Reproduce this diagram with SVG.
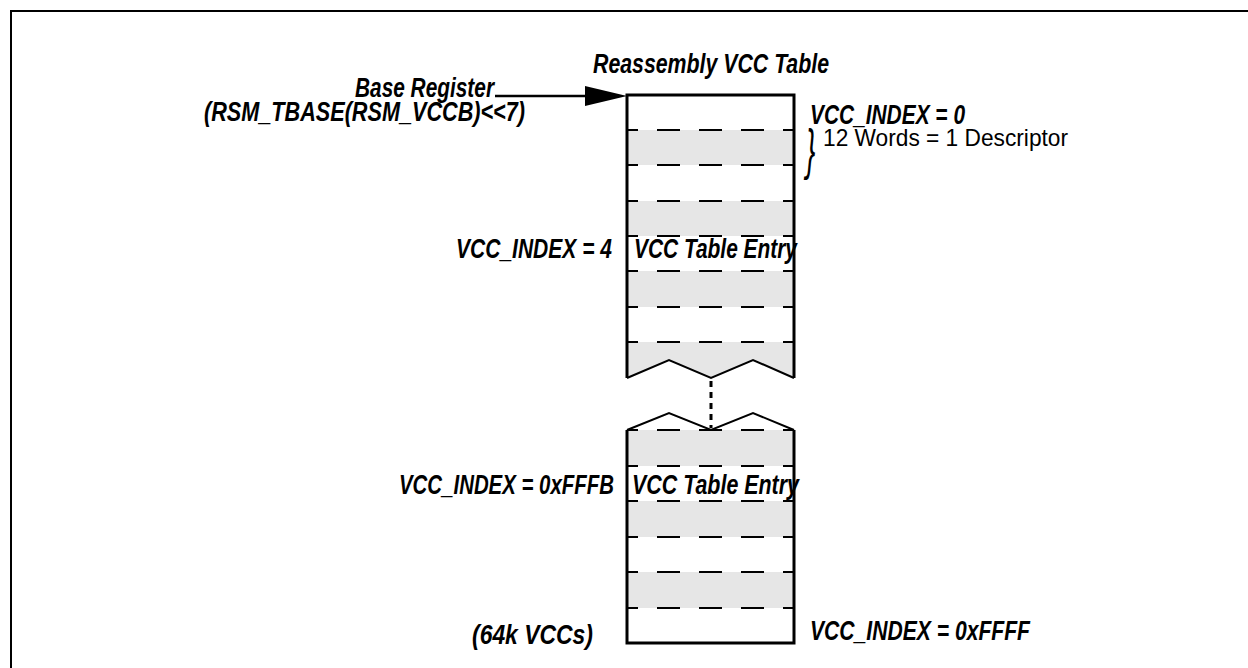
<svg xmlns="http://www.w3.org/2000/svg" width="1248" height="668" viewBox="0 0 1248 668">
<style>
.t{font-family:"Liberation Sans",Arial,sans-serif;font-size:27px;font-weight:bold;font-style:italic;fill:#000}
.r{font-family:"Liberation Sans",Arial,sans-serif;font-size:24px;fill:#000}
.g{fill:#e6e6e6;stroke:none}
.dash{stroke:#000;stroke-width:2;stroke-dasharray:23 19;stroke-dashoffset:12;fill:none}
.edge{stroke:#000;stroke-width:3;fill:none}
.zig{stroke:#000;stroke-width:2;fill:none;stroke-linejoin:miter}
</style>
<rect width="1248" height="668" fill="#fff"/>
<path d="M11,668 V11 H1248" fill="none" stroke="#000" stroke-width="2"/>

<g id="table-top">
<path class="g" d="M627,130 H794 V165 H627 z M627,201 H794 V236 H627 z M627,271 H794 V307 H627 z M627,342 H794 V378 L753,360 L711,378 L669,360 L627,378 z"/>
<g class="dash">
<line x1="627" y1="130" x2="794" y2="130"/>
<line x1="627" y1="165" x2="794" y2="165"/>
<line x1="627" y1="201" x2="794" y2="201"/>
<line x1="627" y1="236" x2="794" y2="236"/>
<line x1="627" y1="271" x2="794" y2="271"/>
<line x1="627" y1="307" x2="794" y2="307"/>
<line x1="627" y1="342" x2="794" y2="342"/>
</g>
<path class="edge" d="M627,378 V95 H794 V378"/>
<polyline class="zig" points="627,378 669,360 711,378 753,360 794,378"/>
<text class="t" x="634" y="258" textLength="163" lengthAdjust="spacingAndGlyphs">VCC Table Entry</text>
</g>

<g id="table-bottom">
<path class="g" d="M627,430 H794 V466 H627 z M627,501 H794 V537 H627 z M627,572 H794 V608 H627 z"/>
<g class="dash">
<line x1="627" y1="430" x2="794" y2="430"/>
<line x1="627" y1="466" x2="794" y2="466"/>
<line x1="627" y1="501" x2="794" y2="501"/>
<line x1="627" y1="537" x2="794" y2="537"/>
<line x1="627" y1="572" x2="794" y2="572"/>
<line x1="627" y1="608" x2="794" y2="608"/>
</g>
<path class="edge" d="M627,430 V643 H794 V430"/>
<polyline class="zig" points="627,430 669,413 711,430 753,413 794,430"/>
<text class="t" x="632" y="494" textLength="167" lengthAdjust="spacingAndGlyphs">VCC Table Entry</text>
</g>

<g id="connectors">
<line x1="495" y1="96" x2="590" y2="96" stroke="#000" stroke-width="2.5"/>
<polygon points="627,96 585,86 585,106" fill="#000"/>
<line x1="711" y1="381" x2="711" y2="428" stroke="#000" stroke-width="3" stroke-dasharray="6 5"/>
</g>

<g id="labels">
<text class="t" x="593" y="73" textLength="236" lengthAdjust="spacingAndGlyphs">Reassembly VCC Table</text>
<text class="t" x="355" y="97" textLength="139" lengthAdjust="spacingAndGlyphs">Base Register</text>
<text class="t" x="204" y="121" textLength="321" lengthAdjust="spacingAndGlyphs">(RSM_TBASE(RSM_VCCB)&lt;&lt;7)</text>
<text class="t" x="810" y="124" textLength="155" lengthAdjust="spacingAndGlyphs">VCC_INDEX = 0</text>
<text class="t" transform="translate(806,168) scale(0.5,1)" style="font-size:56px;font-weight:normal">}</text>
<text class="r" x="823" y="146" textLength="245" lengthAdjust="spacingAndGlyphs">12 Words = 1 Descriptor</text>
<text class="t" x="456" y="258" textLength="156" lengthAdjust="spacingAndGlyphs">VCC_INDEX = 4</text>
<text class="t" x="399" y="494" textLength="215" lengthAdjust="spacingAndGlyphs">VCC_INDEX = 0xFFFB</text>
<text class="t" x="472" y="644" textLength="121" lengthAdjust="spacingAndGlyphs">(64k VCCs)</text>
<text class="t" x="810" y="640" textLength="220" lengthAdjust="spacingAndGlyphs">VCC_INDEX = 0xFFFF</text>
</g>
</svg>
